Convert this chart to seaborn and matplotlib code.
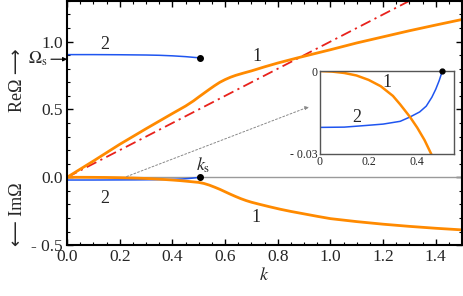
import matplotlib
matplotlib.use("Agg")
import matplotlib.pyplot as plt
import seaborn as sns
import pandas as pd
from matplotlib.ticker import MultipleLocator, FixedLocator, FixedFormatter

# --- data ---
# branch 1, real part
k_re1 = [0, 0.1, 0.2, 0.3, 0.4, 0.45, 0.48, 0.5, 0.52, 0.54, 0.56, 0.58, 0.6, 0.62,
         0.64, 0.67, 0.7, 0.75, 0.8, 0.875, 1.0, 1.1, 1.2, 1.3, 1.4, 1.5]
re1 = [0, 0.12, 0.243, 0.358, 0.47, 0.525, 0.563, 0.592, 0.62, 0.648, 0.675, 0.70,
       0.72, 0.737, 0.751, 0.768, 0.784, 0.814, 0.842, 0.88, 0.94, 0.99, 1.035,
       1.08, 1.122, 1.163]
# branch 1, imaginary part (plotted as -Im)
k_im1 = [0, 0.05, 0.1, 0.15, 0.2, 0.25, 0.3, 0.33, 0.37, 0.4, 0.43, 0.46, 0.5, 0.52,
         0.54, 0.56, 0.58, 0.6, 0.62, 0.64, 0.66, 0.68, 0.7, 0.73, 0.77, 0.81, 0.85,
         0.9, 0.95, 1.0, 1.1, 1.2, 1.3, 1.4, 1.5]
im1 = [0, -0.0002, -0.0007, -0.0016, -0.0032, -0.0055, -0.0090, -0.0121, -0.0166,
       -0.0205, -0.0250, -0.0305, -0.038, -0.046, -0.058, -0.073, -0.089, -0.107,
       -0.125, -0.142, -0.158, -0.172, -0.184, -0.199, -0.218, -0.236, -0.252,
       -0.27, -0.288, -0.305, -0.327, -0.346, -0.362, -0.376, -0.388]
# branch 2
k_re2 = [0, 0.1, 0.2, 0.3, 0.35, 0.4, 0.45, 0.503]
re2 = [0.904, 0.904, 0.903, 0.901, 0.899, 0.895, 0.889, 0.880]
k_im2 = [0, 0.1, 0.19, 0.26, 0.33, 0.371, 0.41, 0.437, 0.46, 0.476, 0.49, 0.503]
im2 = [-0.0204, -0.0203, -0.0197, -0.0192, -0.0182, -0.0166, -0.0148, -0.0127,
       -0.0095, -0.0066, -0.0035, 0.0]
# asymptote
k_red = [0, 1.5]
red = [0, 1.5]

k_s = 0.503
omega_s = 0.87

orange = "#FF8A00"
blue = "#1F55F0"

sns.set_theme(style="ticks")
plt.rcParams['font.family'] = ['Liberation Serif', 'DejaVu Sans']
plt.rcParams['mathtext.fontset'] = 'stix'

fig = plt.figure(figsize=(4.63, 2.96), dpi=100)
ax = fig.add_axes([0.145, 0.172, 0.853, 0.825])


def curve(a, x, y, color, lw, **kw):
    df = pd.DataFrame({'k': x, 'v': y})
    sns.lineplot(data=df, x='k', y='v', ax=a, color=color, linewidth=lw,
                 estimator=None, sort=False, **kw)


ax.axhline(0, color='#9a9a9a', lw=1.0, zorder=1)
curve(ax, k_red, red, '#E8221C', 1.3, linestyle=(0, (6, 2.5, 1.2, 2.5)))
curve(ax, k_re2, re2, blue, 1.1)
curve(ax, k_im2, im2, blue, 1.1)
curve(ax, k_re1, re1, orange, 2.0)
curve(ax, k_im1, im1, orange, 2.0)
ax.plot([k_s, k_s], [re2[-1], 0], 'o', color='black', ms=4, zorder=5)

ax.set_xlim(0, 1.5)
ax.set_ylim(-0.5, 1.3)
ax.set_xlabel('$k$', fontsize=13, labelpad=1)
ax.set_ylabel('')
ax.xaxis.set_major_locator(MultipleLocator(0.2))
ax.xaxis.set_minor_locator(MultipleLocator(0.05))
ax.set_xticklabels([f'{t:.1f}' for t in ax.get_xticks()])
ax.yaxis.set_major_locator(FixedLocator([-0.5, 0.0, 0.5, 1.0]))
ax.yaxis.set_major_formatter(FixedFormatter(['- 0.5', '0.0', '0.5', '1.0']))
ax.yaxis.set_minor_locator(MultipleLocator(0.1))
ax.tick_params(which='both', direction='in', top=True, right=True, labelsize=12.5,
               color='black', pad=3)
ax.tick_params(which='major', length=4, width=1)
ax.tick_params(which='minor', length=2.5, width=0.8)
for s in ax.spines.values():
    s.set_color('black')
    s.set_linewidth(1.5)

ax.text(0.144, 0.98, '2', fontsize=13, ha='center', va='center')
ax.text(0.72, 0.89, '1', fontsize=13, ha='center', va='center')
ax.text(0.144, -0.154, '2', fontsize=13, ha='center', va='center')
ax.text(0.716, -0.30, '1', fontsize=13, ha='center', va='center')
ax.text(0.49, 0.02, '$k_\\mathrm{s}$', fontsize=13, ha='left', va='bottom')

ax.annotate('$\\Omega_\\mathrm{s}$', xy=(0, omega_s), xycoords='data',
            xytext=(-28, omega_s), textcoords=('offset points', 'data'),
            fontsize=12.5, ha='left', va='center', annotation_clip=False,
            arrowprops=dict(arrowstyle='-|>', color='black', lw=0.8,
                            mutation_scale=6, shrinkA=0, shrinkB=0))

ax.annotate('', xy=(0.919, 0.52), xytext=(0.226, 0.005),
            arrowprops=dict(arrowstyle='-|>', color='#888888', lw=0.7,
                            linestyle=(0, (2, 2)), mutation_scale=6,
                            shrinkA=0, shrinkB=0))

fig.text(0.038, 1 - 80 / 296, 'ReΩ ⟶', rotation=90, fontsize=13,
         ha='center', va='center')
fig.text(0.038, 1 - 214 / 296, '⟵ ImΩ', rotation=90, fontsize=13,
         ha='center', va='center')

# inset
ins = fig.add_axes([0.691, 0.480, 0.289, 0.280])
curve(ins, k_im2, im2, blue, 1.1)
curve(ins, k_im1, im1, orange, 1.8)
ins.plot([k_s], [0], 'o', color='black', ms=3.5, zorder=5, clip_on=False)
ins.set_xlim(0, 0.55)
ins.set_ylim(-0.03, 0)
ins.set_xlabel('')
ins.set_ylabel('')
ins.set_xticks([0, 0.2, 0.4])
ins.set_xticklabels(['0', '0.2', '0.4'])
ins.set_yticks([-0.03, 0])
ins.set_yticklabels(['- 0.03', '0'])
ins.tick_params(length=0, labelsize=8.5, pad=1.5)
ins.set_facecolor('white')
for s in ins.spines.values():
    s.set_color('#555555')
    s.set_linewidth(1.0)
ins.text(0.275, -0.0042, '1', fontsize=13, ha='center', va='center')
ins.text(0.150, -0.0169, '2', fontsize=13, ha='center', va='center')

fig.savefig('out.png', dpi=100)
